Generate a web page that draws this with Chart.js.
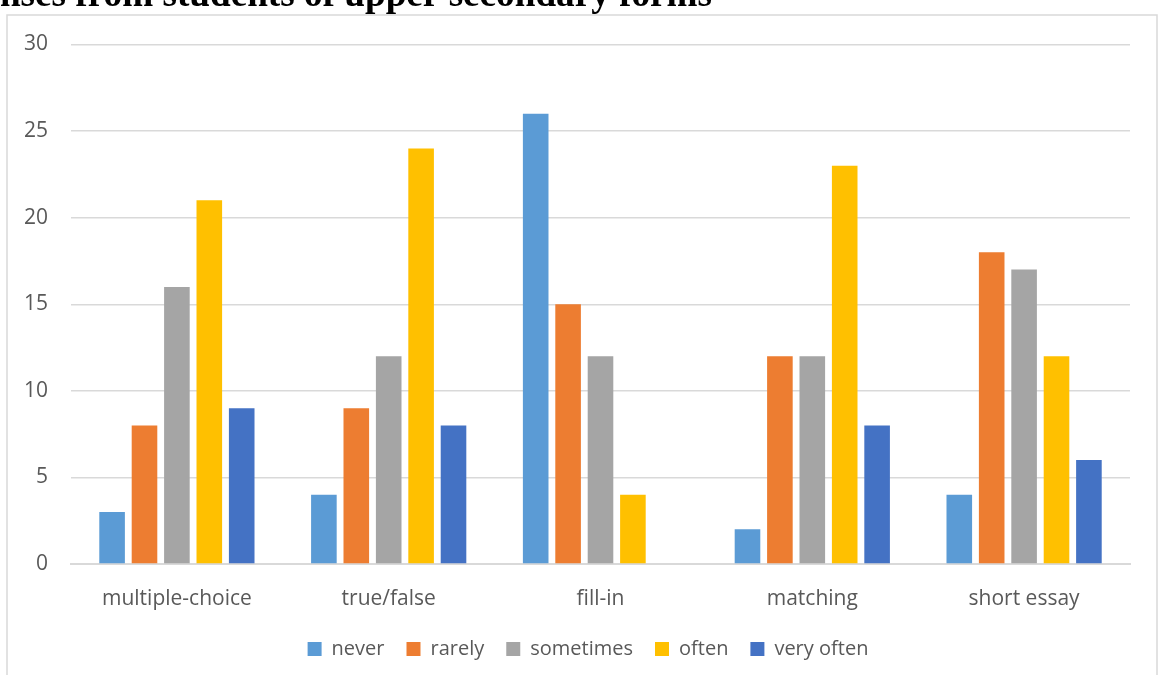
<!DOCTYPE html>
<html>
<head>
<meta charset="utf-8">
<script src="https://cdn.jsdelivr.net/npm/chart.js@4.4.1/dist/chart.umd.min.js"></script>
<style>
    html, body { margin: 0; padding: 0; background: #ffffff; }
    #wrap { position: relative; width: 1165px; height: 675px; }
</style>
</head>
<body>
<div id="wrap"><canvas class="my_chart"></canvas></div>
<script>
const categories = ['multiple-choice', 'true/false', 'fill-in', 'matching', 'short essay'];
const seriesNames = ['never', 'rarely', 'sometimes', 'often', 'very often'];
const never = [3, 4, 26, 2, 4];
const rarely = [8, 9, 15, 12, 18];
const sometimes = [16, 12, 12, 12, 17];
const often = [21, 24, 4, 23, 12];
const veryOften = [9, 8, 0, 8, 6];
const yTicks = [0, 5, 10, 15, 20, 25, 30];

const seriesColors = ['#5B9BD5', '#ED7D31', '#A5A5A5', '#FFC000', '#4472C4'];
const textColor = '#595959';
const gridColor = '#D9D9D9';

document.addEventListener('DOMContentLoaded', () => {
    const ctx = document.querySelector('.my_chart').getContext('2d');

    // Frame of the chart box and the cut-off heading above it
    const frame = {
        id: 'frame',
        afterLayout(chart) {
            // let the y labels spill left of the padded area without being clipped
            chart.scales.y.left = 0;
        },
        beforeDraw(chart) {
            const c = chart.ctx;
            c.save();
            c.fillStyle = '#ffffff';
            c.fillRect(0, 0, chart.width, chart.height);
            c.strokeStyle = gridColor;
            c.lineWidth = 1.5;
            c.strokeRect(7, 15, 1150, 700);
            c.fillStyle = '#000000';
            c.font = 'bold 37.2px "Liberation Serif", "Times New Roman", serif';
            c.textAlign = 'right';
            c.textBaseline = 'alphabetic';
            c.fillText('Responses from students of upper secondary forms', 712, 6);
            c.restore();
        }
    };

    const allValues = [never, rarely, sometimes, often, veryOften];

    const myChart = new Chart(ctx, {
        type: 'bar',
        data: {
            labels: categories,
            datasets: seriesNames.map((name, i) => ({
                label: name,
                data: allValues[i],
                backgroundColor: seriesColors[i],
                borderWidth: 0,
                categoryPercentage: 0.765,
                barPercentage: 0.79
            }))
        },
        options: {
            responsive: true,
            maintainAspectRatio: false,
            animation: false,
            layout: {
                padding: { left: 46, top: 44.5, right: 35, bottom: 6 }
            },
            scales: {
                x: {
                    grid: { display: false, drawTicks: false },
                    border: { color: gridColor, width: 2 },
                    ticks: {
                        color: textColor,
                        font: { family: '"Open Sans", sans-serif', size: 21 },
                        padding: 22,
                        maxRotation: 0
                    },
                    afterFit: (scale) => { scale.height = 53; }
                },
                y: {
                    min: 0,
                    max: 30,
                    afterBuildTicks: (scale) => { scale.ticks = yTicks.map(v => ({ value: v })); },
                    grid: { color: gridColor, lineWidth: 1.5, drawTicks: false },
                    border: { display: false },
                    ticks: {
                        color: textColor,
                        font: { family: '"Open Sans", sans-serif', size: 21 },
                        padding: 23
                    },
                    afterFit: (scale) => { scale.width = 25; }
                }
            },
            plugins: {
                legend: {
                    display: true,
                    position: 'bottom',
                    labels: {
                        color: textColor,
                        font: { family: '"Open Sans", sans-serif', size: 20 },
                        boxWidth: 14,
                        boxHeight: 14,
                        padding: 22
                    }
                },
                tooltip: { enabled: false }
            }
        },
        plugins: [frame]
    });
});
</script>
</body>
</html>
